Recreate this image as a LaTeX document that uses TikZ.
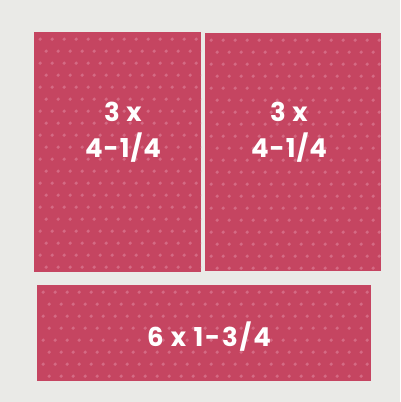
\documentclass[tikz,border=0pt]{standalone}
\usepackage{fontspec}
\setmainfont{Poppins}
\usepackage{xcolor}
\usepackage{tikz}
\usetikzlibrary{calc}

\definecolor{boardgray}{HTML}{EAEAE7}
\definecolor{cardpink}{HTML}{C54561}
\definecolor{dotpink}{HTML}{D46A84}

\begin{document}
\begin{tikzpicture}[
    x=1pt, y=-1pt,
    card/.style={rectangle, fill=cardpink, inner sep=0pt, anchor=north west,
        path picture={
            \foreach \j [evaluate=\j as \off using {mod(\j,2)*6}] in {0,...,21} {
                \foreach \i in {0,...,30} {
                    \fill [dotpink] ($(path picture bounding box.north west)+(\i*12pt+6pt+\off pt,-\j*12pt-7pt)$) circle (1.8pt);
                }
            }
        }},
    cut/.style={text=white, align=center, font=\fontsize{26}{36}\selectfont\bfseries\addfontfeature{LetterSpace=4}}
]
    \fill [boardgray] (0,0) rectangle (400,402);
    \useasboundingbox (0,0) rectangle (400,402);

    % the three pieces
    \node [card, minimum width=167pt, minimum height=240pt] (left) at (34,32) {};
    \node [card, minimum width=176pt, minimum height=238pt] (right) at (205,33) {};
    \node [card, minimum width=334pt, minimum height=96pt] (bottom) at (37,285) {};

    % sizes
    \node [cut] (leftsize) at (123,132) {3 x\\4-1/4};
    \node [cut] (rightsize) at (289,132) {3 x\\4-1/4};
    \node [cut, font=\fontsize{26}{36}\selectfont\bfseries\addfontfeature{LetterSpace=7}] (bottomsize) at (209,337) {6 x 1-3/4};
\end{tikzpicture}
\end{document}
